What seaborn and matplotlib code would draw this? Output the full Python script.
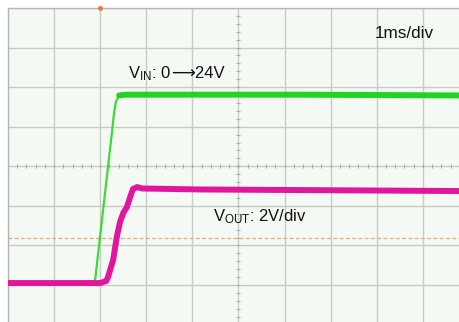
import numpy as np
import pandas as pd
import matplotlib
matplotlib.use("Agg")
import matplotlib.pyplot as plt
import seaborn as sns

# ---- data (read from the scope capture) ----
# time in ms from left screen edge (1 ms/div)
vin_time_ms = [0.0, 1.84, 1.89, 2.26, 2.30, 2.34, 2.41, 2.54, 6.33, 9.81]
vin_volts = [0.0, 0.1, 0.4, 19.3, 21.5, 22.9, 23.7, 23.8, 23.8, 23.7]

vout_time_ms = [0.0, 2.00, 2.13, 2.17, 2.28, 2.36, 2.43, 2.50, 2.58, 2.65,
                2.71, 2.80, 2.91, 4.17, 9.81]
vout_volts = [0.0, 0.0, 0.1, 0.3, 1.16, 2.33, 3.08, 3.54, 3.84, 4.35,
              4.75, 4.85, 4.78, 4.73, 4.65]

vin_scale = 5.0    # V/div
vout_scale = 2.0   # V/div
ground_div = 1.05  # ground reference (divisions from bottom)
trigger_level_div = 2.2
trigger_time_ms = 2.0

time_label = "1ms/div"
vin_label_a = r"$\mathregular{V_{IN}}$: 0"
vin_label_b = "⟶24V"
vout_label = r"$\mathregular{V_{OUT}}$: 2V/div"

vin_df = pd.DataFrame({"t": vin_time_ms,
                       "div": np.array(vin_volts) / vin_scale + ground_div})
vout_df = pd.DataFrame({"t": vout_time_ms,
                        "div": np.array(vout_volts) / vout_scale + ground_div})

# ---- style ----
sns.set_style("white")
plt.rcParams["font.family"] = ["Liberation Sans", "DejaVu Sans"]
plt.rcParams["mathtext.fontset"] = "custom"
plt.rcParams["mathtext.rm"] = "Liberation Sans"

fig = plt.figure(figsize=(4.6, 3.22), dpi=100)
fig.patch.set_facecolor("white")
ax = fig.add_axes([8 / 460, 0, 452 / 460, 314 / 322])
ax.set_facecolor("#f4f9f3")

ax.set_xlim(0, 452 / 46.1)
ax.set_ylim(0.066, 8.0)

# grid
grid_c = "#c8ccc8"
for gx in range(0, 10):
    ax.axvline(gx, color=grid_c, lw=1.0, zorder=1)
for gy in range(0, 9):
    ax.axhline(gy, color=grid_c, lw=1.0, zorder=1)

# center axis minor ticks
mx = np.arange(0, 10, 0.2)
ax.plot(mx, np.full_like(mx, 4.0), ls="none", marker="|", ms=3,
        color="#a8aca8", mew=0.8, zorder=1)
my = np.arange(0, 8, 0.2)
ax.plot(np.full_like(my, 5.0), my, ls="none", marker="_", ms=3,
        color="#a8aca8", mew=0.8, zorder=1)

# trigger level
ax.axhline(trigger_level_div, color="#f2a672", lw=0.9, ls=(0, (3, 2)), zorder=2)
ax.plot([trigger_time_ms], [8.0], marker="o", ms=2.5, color="#f07040",
        clip_on=False, zorder=5)

# traces
sns.lineplot(data=vin_df, x="t", y="div", ax=ax, color="#3fd83a",
             lw=1.6, zorder=3, sort=False)
plateau = vin_df[vin_df["div"] > 0.97 * vin_df["div"].max()]
sns.lineplot(data=plateau, x="t", y="div", ax=ax, color="#22d422",
             lw=4.3, zorder=3, sort=False)
sns.lineplot(data=vout_df, x="t", y="div", ax=ax, color="#e0179c",
             lw=4.3, zorder=4, sort=False)

# labels
ax.text(7.96, 7.23, time_label, fontsize=12.3, color="#111111",
        ha="left", va="baseline", zorder=6)
t1 = ax.text(2.60, 6.23, vin_label_a, fontsize=12, color="#111111",
             ha="left", va="baseline", zorder=6)
ax.text(4.45, 2.62, vout_label, fontsize=12, color="#111111",
        ha="left", va="baseline", zorder=6)

fig.canvas.draw()
bb = t1.get_window_extent()
x_after = ax.transData.inverted().transform((bb.x1, 0))[0]
ax.text(x_after, 6.23, vin_label_b, fontsize=12, color="#111111",
        family=["Liberation Sans", "DejaVu Sans"],
        ha="left", va="baseline", zorder=6)

ax.set_xlabel("")
ax.set_ylabel("")
ax.set_xticks([])
ax.set_yticks([])
for s in ["right", "bottom"]:
    ax.spines[s].set_visible(False)
for s in ["top", "left"]:
    ax.spines[s].set_color("#b4b8b4")
    ax.spines[s].set_linewidth(1.0)

fig.savefig("out.png", dpi=100, facecolor="white")
